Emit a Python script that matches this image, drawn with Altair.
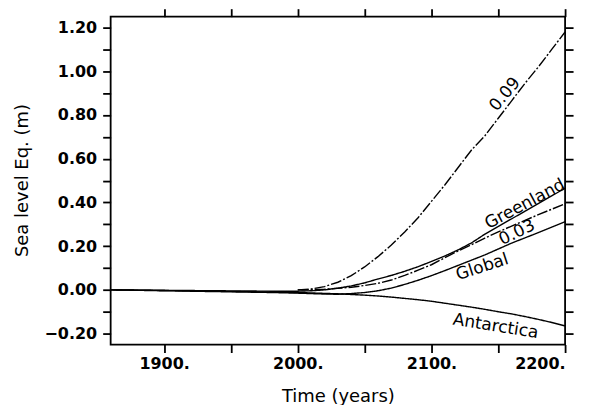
import altair as alt
import pandas as pd

# ---- data ----
years_full = [1860, 1880, 1900, 1920, 1940, 1960, 1980, 2000, 2010, 2020, 2030, 2040, 2050, 2060,
              2070, 2080, 2090, 2100, 2110, 2120, 2130, 2140, 2150, 2160, 2170, 2180, 2190, 2200]
global_vals = [0, -0.002, -0.004, -0.006, -0.008, -0.010, -0.012, -0.015, -0.017, -0.019, -0.020, -0.017,
               -0.012, -0.004, 0.008, 0.025, 0.044, 0.065, 0.088, 0.112, 0.136, 0.160, 0.187, 0.214,
               0.238, 0.262, 0.287, 0.312]
greenland_vals = [0, -0.001, -0.002, -0.003, -0.004, -0.005, -0.006, -0.006, -0.004, 0.0, 0.008, 0.018,
                  0.032, 0.050, 0.066, 0.085, 0.106, 0.130, 0.155, 0.183, 0.215, 0.255, 0.290, 0.325,
                  0.360, 0.395, 0.430, 0.465]
antarctica_vals = [0, -0.001, -0.003, -0.004, -0.006, -0.008, -0.010, -0.012, -0.014, -0.016, -0.018,
                   -0.021, -0.024, -0.028, -0.033, -0.039, -0.045, -0.052, -0.061, -0.070, -0.079,
                   -0.089, -0.100, -0.110, -0.122, -0.135, -0.149, -0.165]

years_scen = [2000, 2010, 2020, 2030, 2040, 2050, 2060, 2070, 2080, 2090, 2100, 2110, 2120, 2130,
              2140, 2150, 2160, 2170, 2180, 2190, 2200]
scen_009 = [0, 0.004, 0.015, 0.035, 0.065, 0.105, 0.152, 0.205, 0.265, 0.330, 0.405, 0.480, 0.560,
            0.640, 0.705, 0.785, 0.865, 0.945, 1.020, 1.100, 1.180]
scen_003 = [0, 0.001, 0.003, 0.007, 0.012, 0.020, 0.030, 0.045, 0.066, 0.090, 0.115, 0.147, 0.178,
            0.207, 0.237, 0.265, 0.292, 0.318, 0.344, 0.369, 0.394]

label_text = ["0.09", "Greenland", "0.03", "Global", "Antarctica"]
label_year = [2155, 2170, 2164, 2138, 2148]
label_value = [0.895, 0.392, 0.262, 0.104, -0.167]
label_angle = [310, 332, 334, 342, 9]

x_ticks = [1900, 1950, 2000, 2050, 2100, 2150, 2200]
y_ticks = [round(-0.2 + 0.1 * i, 1) for i in range(15)]

# ---- tables ----
rows = []
for name, ys, vals, style in [("Global", years_full, global_vals, "solid"),
                              ("Greenland", years_full, greenland_vals, "solid"),
                              ("Antarctica", years_full, antarctica_vals, "solid"),
                              ("0.09", years_scen, scen_009, "dashdot"),
                              ("0.03", years_scen, scen_003, "dashdot")]:
    for y, v in zip(ys, vals):
        rows.append({"series": name, "year": y, "value": v, "style": style})
df = pd.DataFrame(rows)
labels = pd.DataFrame({"text": label_text, "year": label_year, "value": label_value, "angle": label_angle})

xscale = alt.Scale(domain=[1860, 2200], nice=False, zero=False)
yscale = alt.Scale(domain=[-0.25, 1.25], nice=False, zero=False)

common = dict(domain=False, grid=False, ticks=True, tickSize=8, tickWidth=1.8, tickColor="black",
              labelColor="black", labelFont="DejaVu Sans", labelFontWeight="bold", labelFontSize=16,
              titleColor="black", titleFont="DejaVu Sans", titleFontWeight="normal", titleFontSize=18)

x_bottom = alt.Axis(orient="bottom", values=x_ticks, title="Time (years)",
                    labelExpr="datum.value % 100 == 0 ? datum.value + '.' : ''",
                    labelPadding=3, titleY=57, titleBaseline="alphabetic", **common)
x_top = alt.Axis(orient="top", values=x_ticks, labels=False, title=None, **common)
y_left = alt.Axis(orient="left", values=y_ticks, title="Sea level Eq. (m)",
                  labelExpr="abs(round(datum.value*10)) % 2 == 0 ? format(datum.value, '.2f') : ''",
                  labelPadding=6, titleX=-88, titleY=164, titleBaseline="middle", **common)
y_right = alt.Axis(orient="right", values=y_ticks, labels=False, title=None, **common)

lines = alt.Chart(df).mark_line(color="black", strokeWidth=1.4).encode(
    x=alt.X("year:Q", scale=xscale, axis=x_bottom),
    y=alt.Y("value:Q", scale=yscale, axis=y_left),
    detail="series:N",
    strokeDash=alt.StrokeDash("style:N", scale=alt.Scale(domain=["solid", "dashdot"],
                                                         range=[[1, 0], [11, 2, 2, 2]]), legend=None),
)

text = alt.Chart(labels).mark_text(font="DejaVu Sans", fontSize=17, color="black",
                                   align="center", baseline="middle").encode(
    x=alt.X("year:Q", scale=xscale, axis=x_top),
    y=alt.Y("value:Q", scale=yscale, axis=y_right),
    text="text:N",
    angle=alt.Angle("angle:Q", scale=None),
)

chart = alt.layer(lines, text).properties(
    width=456, height=329,
    autosize=alt.AutoSizeParams(type="none"),
    padding={"left": 103, "top": 8, "right": 25, "bottom": 60},
).configure_view(stroke="black", strokeWidth=1.8)

chart.save("out.html", embed_options={"renderer": "svg", "actions": False})
